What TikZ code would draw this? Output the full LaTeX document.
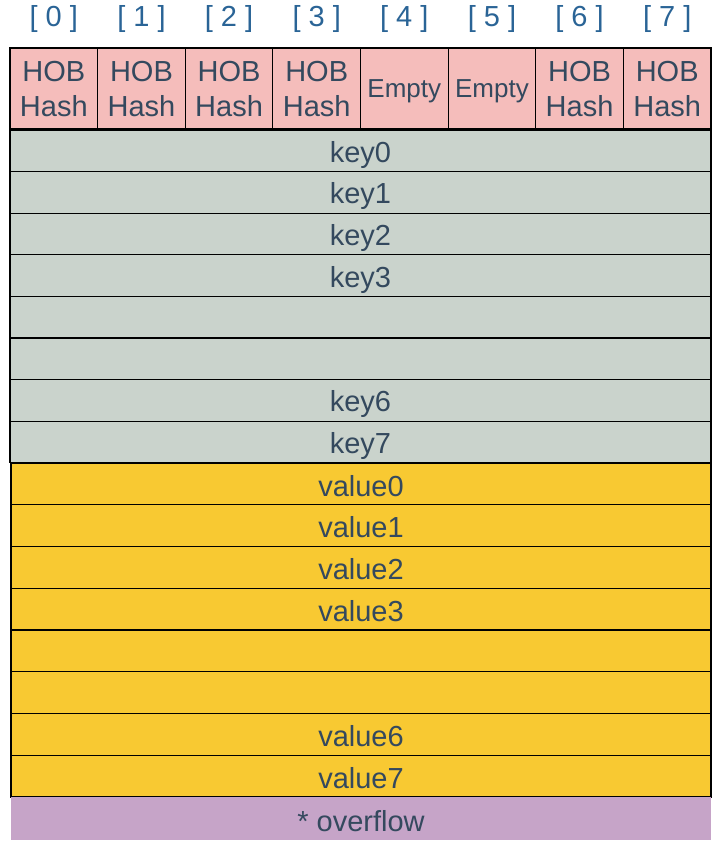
\documentclass[tikz,border=0pt]{standalone}
\usepackage{fontspec}
\setmainfont{Liberation Sans}
\begin{document}
\definecolor{hobpink}{HTML}{F5BDBB}
\definecolor{keygray}{HTML}{CAD3CC}
\definecolor{valyellow}{HTML}{F8C932}
\definecolor{ovpurple}{HTML}{C6A4C8}
\definecolor{txtslate}{HTML}{34495E}
\definecolor{idxblue}{HTML}{2A6496}
\begin{tikzpicture}[x=1pt,y=-1pt,
  cell/.style={draw=black,line width=1.2pt},
  celltext/.style={text=txtslate,font=\fontsize{29}{35}\selectfont,align=center,inner sep=0pt},
  idx/.style={text=idxblue,font=\fontsize{29}{34}\selectfont,inner sep=0pt}]
\useasboundingbox (0,0) rectangle (725,847);
% column edges and row heights
\def\xl{10}\def\xr{711}\def\cw{87.625}
% index labels and header cells
\foreach \i/\t in {0/HOB\\Hash,1/HOB\\Hash,2/HOB\\Hash,3/HOB\\Hash,6/HOB\\Hash,7/HOB\\Hash}{
  \filldraw[cell,fill=hobpink] ({\xl+\i*\cw},48) rectangle ({\xl+(\i+1)*\cw},129);
  \node[celltext] (h\i) at ({\xl+(\i+0.5)*\cw},89) {\t};
}
\foreach \i in {4,5}{
  \filldraw[cell,fill=hobpink] ({\xl+\i*\cw},48) rectangle ({\xl+(\i+1)*\cw},129);
  \node[celltext,font=\fontsize{26}{30}\selectfont] (h\i) at ({\xl+(\i+0.5)*\cw},91) {Empty};
}
\foreach \i in {0,...,7}{
  \node[idx] (ix\i) at ({\xl+(\i+0.5)*\cw},19) {[ \i\ ]};
}
% key rows
\foreach \r/\t in {0/key0,1/key1,2/key2,3/key3,4/{},5/{},6/key6,7/key7}{
  \filldraw[cell,fill=keygray] (\xl,{130+\r*41.6}) rectangle (\xr,{130+(\r+1)*41.6});
  \node[celltext] (k\r) at ({(\xl+\xr)/2},{134+(\r+0.5)*41.6}) {\t};
}
% value rows
\foreach \r/\t in {0/value0,1/value1,2/value2,3/value3,4/{},5/{},6/value6,7/value7}{
  \filldraw[cell,fill=valyellow] (11,{463+\r*41.75}) rectangle (\xr,{463+(\r+1)*41.75});
  \node[celltext] (v\r) at ({(11+\xr)/2},{465+(\r+0.5)*41.75}) {\t};
}
% overflow pointer
\fill[ovpurple] (11,797) rectangle (\xr,840);
\node[celltext] (ov) at ({(11+\xr)/2},821) {* overflow};
\end{tikzpicture}
\end{document}
